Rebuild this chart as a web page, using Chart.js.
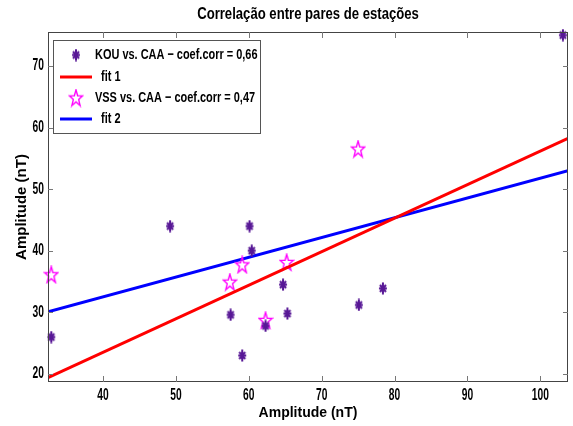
<!DOCTYPE html>
<html>
<head>
<meta charset="utf-8">
<script src="https://cdn.jsdelivr.net/npm/chart.js@4"></script>
<style>
  html, body { margin: 0; padding: 0; background: #fff; }
</style>
</head>
<body>
<canvas id="chart" width="573" height="426"></canvas>
<script>
// data
const kouX = [32.9, 49.2, 60.1, 60.4, 57.5, 59.1, 64.7, 65.3, 62.3, 75.1, 78.4, 103.1];
const kouY = [26.0, 44.0, 44.0, 40.0, 29.6, 23.0, 34.5, 29.8, 27.8, 31.2, 33.9, 75.0];
const vssX = [32.9, 57.4, 59.1, 62.3, 65.2, 75.0];
const vssY = [36.1, 34.9, 37.7, 28.7, 38.1, 56.5];
const fit1X = [32.45, 103.8];
const fit1Y = [19.4, 58.25];
const fit2X = [32.45, 103.8];
const fit2Y = [30.1, 53.0];
const xTicks = [40, 50, 60, 70, 80, 90, 100];
const yTicks = [20, 30, 40, 50, 60, 70];
const seriesLabels = [
  'KOU vs. CAA \u2212 coef.corr = 0,66',
  '  fit 1',
  'VSS vs. CAA \u2212 coef.corr = 0,47',
  '  fit 2',
];
const chartTitle = 'Correla\u00e7\u00e3o entre pares de esta\u00e7\u00f5es';
const xTitle = 'Amplitude (nT)';
const yTitle = 'Amplitude (nT)';

const FONT = "'Liberation Sans', Arial, sans-serif";
const PURPLE = 'rgb(88, 24, 150)';
const MAGENTA = '#ff00ff';

const toPoints = (xs, ys) => xs.map((x, i) => ({ x, y: ys[i] }));

// MATLAB-like '*' marker, a bit taller than wide
function asteriskMarker() {
  const c = document.createElement('canvas');
  c.width = 10;
  c.height = 13;
  const ctx = c.getContext('2d');
  ctx.strokeStyle = PURPLE;
  ctx.lineWidth = 2;
  ctx.beginPath();
  ctx.moveTo(5, 0.5); ctx.lineTo(5, 12.5);
  ctx.moveTo(1, 6.5); ctx.lineTo(9, 6.5);
  ctx.moveTo(2, 3); ctx.lineTo(8, 10);
  ctx.moveTo(8, 3); ctx.lineTo(2, 10);
  ctx.stroke();
  return c;
}

// hollow pentagram marker
function pentagramMarker() {
  const c = document.createElement('canvas');
  c.width = 16;
  c.height = 19;
  const ctx = c.getContext('2d');
  const cx = 8, cy = 10, rx = 7, ry = 8.6, inner = 0.4;
  ctx.strokeStyle = MAGENTA;
  ctx.lineWidth = 1.4;
  ctx.beginPath();
  for (let i = 0; i < 10; i++) {
    const a = -Math.PI / 2 + (i * Math.PI) / 5;
    const k = i % 2 ? inner : 1;
    const px = cx + Math.cos(a) * rx * k;
    const py = cy + Math.sin(a) * ry * k;
    if (i === 0) ctx.moveTo(px, py);
    else ctx.lineTo(px, py);
  }
  ctx.closePath();
  ctx.stroke();
  return c;
}

const asterisk = asteriskMarker();
const pentagram = pentagramMarker();

// the original text is squeezed sideways, so squeeze it the same way
function squeezedText(ctx, text, x, y, size, sx, align) {
  ctx.save();
  ctx.font = 'bold ' + size + 'px ' + FONT;
  ctx.fillStyle = '#000';
  ctx.textAlign = align;
  ctx.textBaseline = 'middle';
  ctx.translate(x, y);
  ctx.scale(sx, 1);
  ctx.fillText(text, 0, 0);
  ctx.restore();
}

const frame = {
  id: 'frame',
  afterDraw(chart) {
    const { ctx, chartArea: a, scales } = chart;
    ctx.save();

    // box and inward ticks
    ctx.strokeStyle = '#444';
    ctx.lineWidth = 1;
    ctx.strokeRect(a.left + 0.5, a.top + 0.5, a.right - a.left - 1, a.bottom - a.top - 1);
    ctx.strokeStyle = '#777';
    ctx.beginPath();
    scales.x.ticks.forEach((t) => {
      const x = Math.round(scales.x.getPixelForValue(t.value)) + 0.5;
      ctx.moveTo(x, a.bottom); ctx.lineTo(x, a.bottom - 6);
      ctx.moveTo(x, a.top); ctx.lineTo(x, a.top + 6);
    });
    scales.y.ticks.forEach((t) => {
      const y = Math.round(scales.y.getPixelForValue(t.value)) + 0.5;
      ctx.moveTo(a.left, y); ctx.lineTo(a.left + 5, y);
      ctx.moveTo(a.right, y); ctx.lineTo(a.right - 5, y);
    });
    ctx.stroke();

    // tick labels
    scales.x.ticks.forEach((t) => {
      squeezedText(ctx, t.label, scales.x.getPixelForValue(t.value), a.bottom + 14, 16, 0.64, 'center');
    });
    scales.y.ticks.forEach((t) => {
      squeezedText(ctx, t.label, a.left - 4, scales.y.getPixelForValue(t.value), 16, 0.64, 'right');
    });

    // title
    squeezedText(ctx, chartTitle, (a.left + a.right) / 2, 15, 16, 0.82, 'center');

    // legend
    const box = { left: 53, top: 40, right: 260, bottom: 133 };
    ctx.fillStyle = '#fff';
    ctx.fillRect(box.left, box.top, box.right - box.left, box.bottom - box.top);
    ctx.strokeStyle = '#555';
    ctx.lineWidth = 1;
    ctx.strokeRect(box.left + 0.5, box.top + 0.5, box.right - box.left, box.bottom - box.top);
    const rows = [55, 77, 98, 119];
    chart.data.datasets.forEach((ds, i) => {
      const y = rows[i];
      if (ds.showLine) {
        ctx.strokeStyle = ds.borderColor;
        ctx.lineWidth = ds.borderWidth;
        ctx.beginPath();
        ctx.moveTo(60, y); ctx.lineTo(92, y);
        ctx.stroke();
      } else {
        const img = ds.pointStyle;
        ctx.drawImage(img, 76 - img.width / 2, y - img.height / 2);
      }
      squeezedText(ctx, ds.label, 95, y, 15, 0.73, 'left');
    });
    ctx.restore();
  },
};

new Chart(document.getElementById('chart'), {
  type: 'scatter',
  data: {
    datasets: [
      {
        label: seriesLabels[0],
        data: toPoints(kouX, kouY),
        pointStyle: asterisk,
        clip: false,
      },
      {
        label: seriesLabels[1],
        data: toPoints(fit1X, fit1Y),
        showLine: true,
        borderColor: '#ff0000',
        borderWidth: 3,
        pointRadius: 0,
      },
      {
        label: seriesLabels[2],
        data: toPoints(vssX, vssY),
        pointStyle: pentagram,
        clip: false,
      },
      {
        label: seriesLabels[3],
        data: toPoints(fit2X, fit2Y),
        showLine: true,
        borderColor: '#0000ff',
        borderWidth: 3,
        pointRadius: 0,
      },
    ],
  },
  options: {
    responsive: false,
    animation: false,
    layout: { padding: { top: 32, right: 5, left: 0, bottom: 0 } },
    plugins: {
      legend: { display: false },
      title: { display: false },
      tooltip: { enabled: false },
    },
    scales: {
      x: {
        type: 'linear',
        min: 32.45,
        max: 103.8,
        grid: { display: false, drawTicks: false },
        border: { display: false },
        afterBuildTicks(scale) {
          scale.ticks = xTicks.map((value) => ({ value }));
        },
        afterFit(scale) {
          scale.height = 44;
        },
        ticks: { display: false },
        title: {
          display: true,
          text: xTitle,
          color: '#000',
          padding: { top: 0, bottom: 4 },
          font: { family: FONT, size: 14, weight: 'bold' },
        },
      },
      y: {
        type: 'linear',
        min: 18.7,
        max: 75.5,
        grid: { display: false, drawTicks: false },
        border: { display: false },
        afterBuildTicks(scale) {
          scale.ticks = yTicks.map((value) => ({ value }));
        },
        afterFit(scale) {
          scale.width = 48;
        },
        ticks: { display: false },
        title: {
          display: true,
          text: yTitle,
          color: '#000',
          padding: { top: 13, bottom: 0 },
          font: { family: FONT, size: 15, weight: 'bold' },
        },
      },
    },
  },
  plugins: [frame],
});
</script>
</body>
</html>
